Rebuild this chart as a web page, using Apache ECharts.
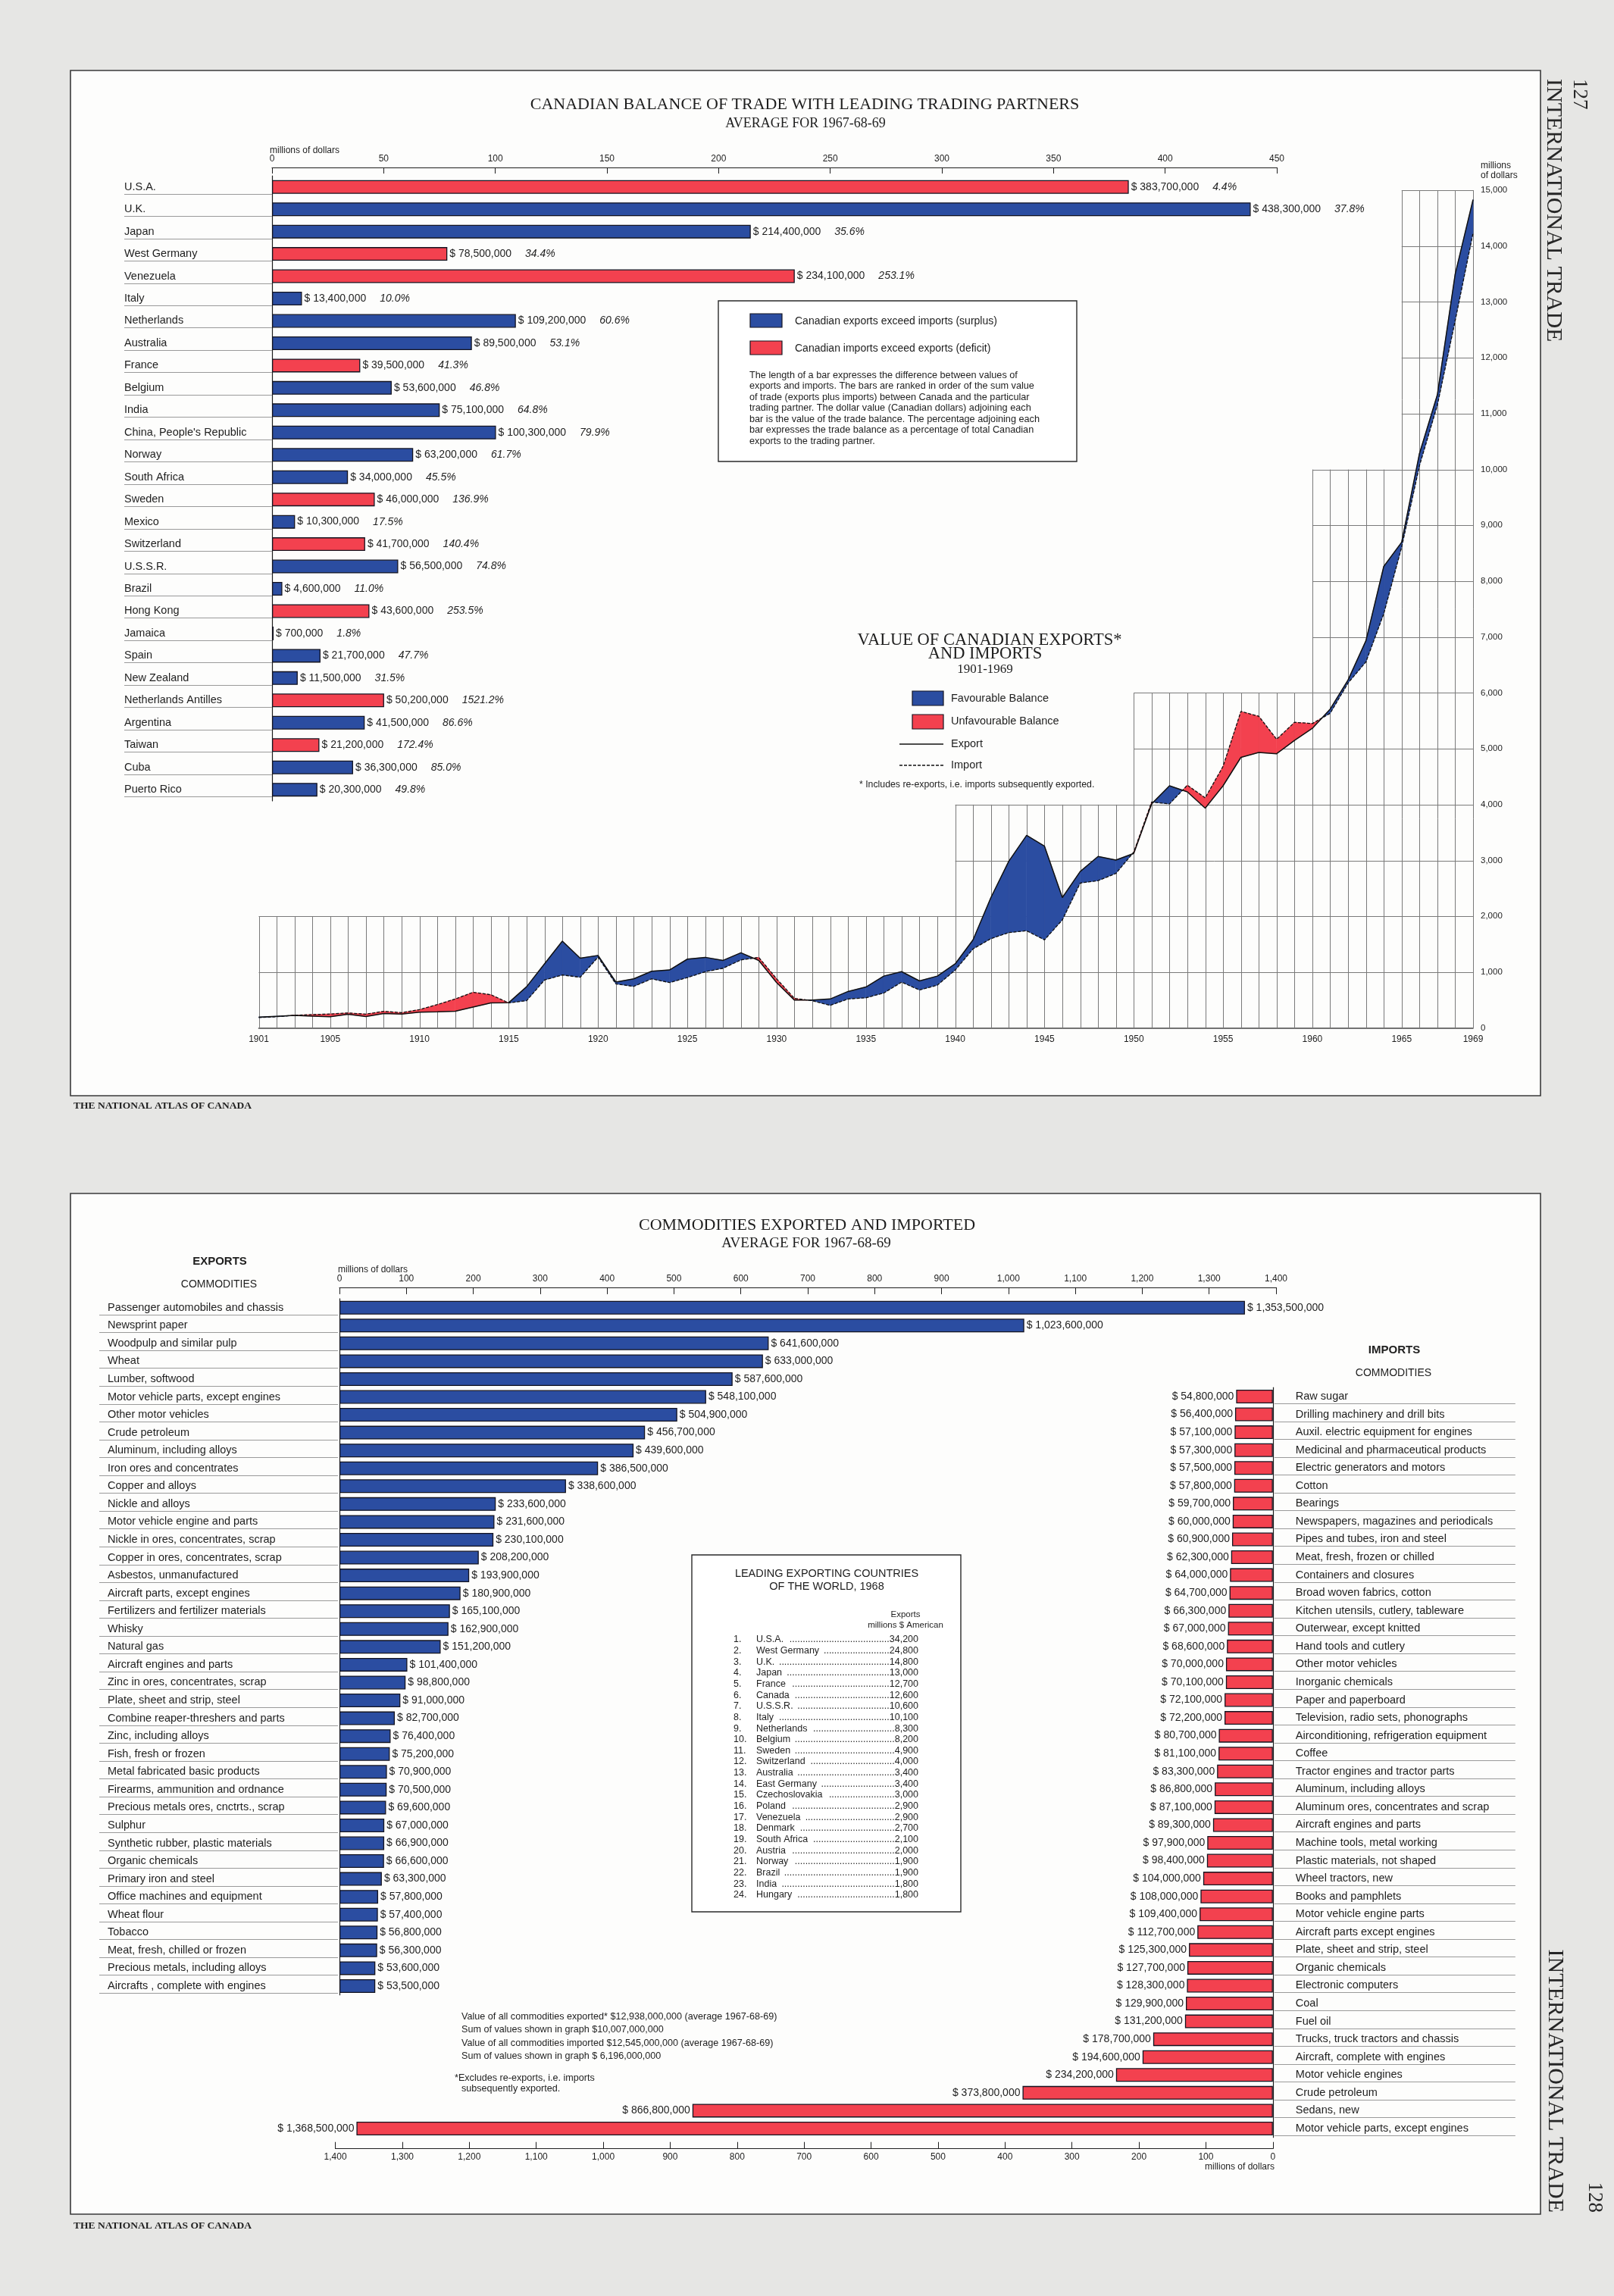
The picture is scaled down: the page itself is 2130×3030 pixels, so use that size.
<!DOCTYPE html>
<html><head><meta charset="utf-8">
<script src="https://cdn.jsdelivr.net/npm/echarts@6/dist/echarts.min.js"></script>
<style>html,body{margin:0;padding:0;background:#e6e6e4;}#c{width:2130px;height:3030px;}</style>
</head><body><div id="c"></div>
<script>
// ---------------- DATA ----------------
const partners = ['U.S.A.','U.K.','Japan','West Germany','Venezuela','Italy','Netherlands','Australia','France','Belgium','India',"China, People's Republic",'Norway','South Africa','Sweden','Mexico','Switzerland','U.S.S.R.','Brazil','Hong Kong','Jamaica','Spain','New Zealand','Netherlands Antilles','Argentina','Taiwan','Cuba','Puerto Rico'];
const partnerBalance = [383.7,438.3,214.4,78.5,234.1,13.4,109.2,89.5,39.5,53.6,75.1,100.3,63.2,34.0,46.0,10.3,41.7,56.5,4.6,43.6,0.7,21.7,11.5,50.2,41.5,21.2,36.3,20.3];
const partnerPct = ['4.4%','37.8%','35.6%','34.4%','253.1%','10.0%','60.6%','53.1%','41.3%','46.8%','64.8%','79.9%','61.7%','45.5%','136.9%','17.5%','140.4%','74.8%','11.0%','253.5%','1.8%','47.7%','31.5%','1521.2%','86.6%','172.4%','85.0%','49.8%'];
const partnerDeficit = [1,0,0,1,1,0,0,0,1,0,0,0,0,0,1,0,1,0,0,1,0,0,0,1,0,1,0,0];
const balanceTicks = [0,50,100,150,200,250,300,350,400,450];

const tradeYears = [1901,1902,1903,1904,1905,1906,1907,1908,1909,1910,1911,1912,1913,1914,1915,1916,1917,1918,1919,1920,1921,1922,1923,1924,1925,1926,1927,1928,1929,1930,1931,1932,1933,1934,1935,1936,1937,1938,1939,1940,1941,1942,1943,1944,1945,1946,1947,1948,1949,1950,1951,1952,1953,1954,1955,1956,1957,1958,1959,1960,1961,1962,1963,1964,1965,1966,1967,1968,1969];
const canExports = [196,211,225,214,203,246,206,262,250,285,290,300,375,450,455,740,1150,1555,1250,1300,823,881,1017,1040,1234,1266,1211,1347,1210,814,500,500,520,655,735,930,1010,844,930,1150,1580,2336,2985,3451,3256,2336,2802,3072,3007,3126,4013,4337,4229,3937,4337,4846,4933,4911,5149,5365,5711,6231,6934,8264,8697,10287,11336,13499,14830];
const canImports = [188,203,228,241,252,270,249,300,275,330,420,520,640,597,450,490,860,950,910,1270,790,746,881,814,904,1008,1071,1220,1265,881,530,490,407,520,542,627,822,681,768,1038,1417,1601,1709,1742,1579,1936,2596,2639,2769,3150,4046,4013,4348,4121,4684,5668,5582,5170,5473,5452,5636,6177,6555,7420,8610,10071,11152,12667,14235];
const yearLabels = [1901,1905,1910,1915,1920,1925,1930,1935,1940,1945,1950,1955,1960,1965,1969];
const gridLevels = [1000,2000,3000,4000,5000,6000,7000,8000,9000,10000,11000,12000,13000,14000,15000];
const gridSteps = [[1901,2000],[1940,4000],[1950,6000],[1960,10000],[1965,15000]];

const exportNames = ['Passenger automobiles and chassis','Newsprint paper','Woodpulp and similar pulp','Wheat','Lumber, softwood','Motor vehicle parts, except engines','Other motor vehicles','Crude petroleum','Aluminum, including alloys','Iron ores and concentrates','Copper and alloys','Nickle and alloys','Motor vehicle engine and parts','Nickle in ores, concentrates, scrap','Copper in ores, concentrates, scrap','Asbestos, unmanufactured','Aircraft parts, except engines','Fertilizers and fertilizer materials','Whisky','Natural gas','Aircraft engines and parts','Zinc in ores, concentrates, scrap','Plate, sheet and strip, steel','Combine reaper-threshers and parts','Zinc, including alloys','Fish, fresh or frozen','Metal fabricated basic products','Firearms, ammunition and ordnance','Precious metals ores, cnctrts., scrap','Sulphur','Synthetic rubber, plastic materials','Organic chemicals','Primary iron and steel','Office machines and equipment','Wheat flour','Tobacco','Meat, fresh, chilled or frozen','Precious metals, including alloys','Aircrafts , complete with engines'];
const exportValues = [1353.5,1023.6,641.6,633.0,587.6,548.1,504.9,456.7,439.6,386.5,338.6,233.6,231.6,230.1,208.2,193.9,180.9,165.1,162.9,151.2,101.4,98.8,91.0,82.7,76.4,75.2,70.9,70.5,69.6,67.0,66.9,66.6,63.3,57.8,57.4,56.8,56.3,53.6,53.5];

const importNames = ['Raw sugar','Drilling machinery and drill bits','Auxil. electric equipment for engines','Medicinal and pharmaceutical products','Electric generators and motors','Cotton','Bearings','Newspapers, magazines and periodicals','Pipes and tubes, iron and steel','Meat, fresh, frozen or chilled','Containers and closures','Broad woven fabrics, cotton','Kitchen utensils, cutlery, tableware','Outerwear, except knitted','Hand tools and cutlery','Other motor vehicles','Inorganic chemicals','Paper and paperboard','Television, radio sets, phonographs','Airconditioning, refrigeration equipment','Coffee','Tractor engines and tractor parts','Aluminum, including alloys','Aluminum ores, concentrates and scrap','Aircraft engines and parts','Machine tools, metal working','Plastic materials, not shaped','Wheel tractors, new','Books and pamphlets','Motor vehicle engine parts','Aircraft parts except engines','Plate, sheet and strip, steel','Organic chemicals','Electronic computers','Coal','Fuel oil','Trucks, truck tractors and chassis','Aircraft, complete with engines','Motor vehicle engines','Crude petroleum','Sedans, new','Motor vehicle parts, except engines'];
const importValues = [54.8,56.4,57.1,57.3,57.5,57.8,59.7,60.0,60.9,62.3,64.0,64.7,66.3,67.0,68.6,70.0,70.1,72.1,72.2,80.7,81.1,83.3,86.8,87.1,89.3,97.9,98.4,104.0,108.0,109.4,112.7,125.3,127.7,128.3,129.9,131.2,178.7,194.6,234.2,373.8,866.8,1368.5];

const leadCountries = ['U.S.A.','West Germany','U.K.','Japan','France','Canada','U.S.S.R.','Italy','Netherlands','Belgium','Sweden','Switzerland','Australia','East Germany','Czechoslovakia','Poland','Venezuela','Denmark','South Africa','Austria','Norway','Brazil','India','Hungary'];
const leadExports = [34200,24800,14800,13000,12700,12600,10600,10100,8300,8200,4900,4000,3400,3400,3000,2900,2900,2700,2100,2000,1900,1900,1800,1800];

// ---------------- STYLE ----------------
const F = '"Liberation Sans", Arial, Helvetica, sans-serif';
const SERIF = '"Liberation Serif", "Times New Roman", serif';
const INK = '#1e1e1e';
const BLUE = '#2b4da1', RED = '#f3414f', EDGE = '#141420';
const GRIDC = '#7a7a7a';

function fmtInt(n){ return String(Math.round(n)).replace(/\B(?=(\d{3})+(?!\d))/g, ','); }
function money(m){ return '$ ' + fmtInt(m * 1e6); }
const mctx = document.createElement('canvas').getContext('2d');
function textW(t, font){ mctx.font = font; return mctx.measureText(t).width; }

function T(x, y, text, o){
  o = o || {};
  const st = {text: text, font: o.font || ('13px ' + F), fill: o.fill || INK,
    textAlign: o.align || 'left', textVerticalAlign: o.valign || 'middle',
    align: o.align || 'left', verticalAlign: o.valign || 'middle'};
  return {type:'text', x: x, y: y, z: 50, silent: true, rotation: o.rot || 0, style: st};
}
function R(x, y, w, h, fill, stroke, lw, z){
  return {type:'rect', z: z === undefined ? 40 : z, silent: true, shape:{x:x, y:y, width:w, height:h},
    style:{fill: fill, stroke: stroke || null, lineWidth: lw || 0}};
}
function L(x1, y1, x2, y2, stroke, lw, dash){
  return {type:'line', z: 40, silent: true, shape:{x1:x1,y1:y1,x2:x2,y2:y2}, style:{stroke: stroke, lineWidth: lw, lineDash: dash || null}};
}

function sepSeries(xi, yi, n, dx0, dx1){
  const d = [];
  for (let i = 0; i < n; i++) d.push([0, i]);
  return {type:'custom', xAxisIndex: xi, yAxisIndex: yi, silent: true, z: 1, data: d,
    encode:{x:0, y:1},
    renderItem: function(params, api){
      const p = api.coord([0, api.value(1)]);
      const y = Math.round(p[1] + 9) + 0.5;
      return {type:'line', shape:{x1: p[0] + dx0, y1: y, x2: p[0] + dx1, y2: y}, style:{stroke:'#9a9a9a', lineWidth:1}};
    }};
}

function capForYear(y){ let c = 0; gridSteps.forEach(s => { if (y >= s[0]) c = s[1]; }); return c; }
function startForLevel(v){ for (const s of gridSteps) { if (s[1] >= v) return s[0]; } return 1901; }

// ---------------- CHART ----------------
const chart = echarts.init(document.getElementById('c'), null, {renderer:'canvas'});
const topRowH = 29.46, botRowH = 23.56;

const G = [];
G.push(R(93, 93, 1940, 1353, '#fdfdfc', '#3a3a3a', 1.6, -100));
G.push(R(93, 1575, 1940, 1347, '#fdfdfc', '#3a3a3a', 1.6, -100));
G.push(T(97, 1460, 'THE NATIONAL ATLAS OF CANADA', {font:'bold 13.5px ' + SERIF}));
G.push(T(97, 2938, 'THE NATIONAL ATLAS OF CANADA', {font:'bold 13.5px ' + SERIF}));
G.push(T(2050, 104, 'INTERNATIONAL TRADE', {font:'30px ' + SERIF, rot:-Math.PI/2, fill:'#262626'}));
G.push(T(2084, 104, '127', {font:'27px ' + SERIF, rot:-Math.PI/2, fill:'#262626'}));
G.push(T(2052, 2920, 'INTERNATIONAL TRADE', {font:'30px ' + SERIF, rot:-Math.PI/2, align:'right', fill:'#262626'}));
G.push(T(2104, 2920, '128', {font:'27px ' + SERIF, rot:-Math.PI/2, align:'right', fill:'#262626'}));

G.push(T(1062, 138, 'CANADIAN BALANCE OF TRADE WITH LEADING TRADING PARTNERS', {font:'22px ' + SERIF, align:'center'}));
G.push(T(1063, 163, 'AVERAGE FOR 1967-68-69', {font:'18px ' + SERIF, align:'center'}));
G.push(T(356, 199, 'millions of dollars', {font:'12px ' + F}));

G.push(R(948, 397, 473, 212, '#ffffff', '#2a2a2a', 1.4, 30));
G.push(R(990, 414, 42, 18, BLUE, EDGE, 1.2));
G.push(R(990, 450, 42, 18, RED, EDGE, 1.2));
G.push(T(1049, 424, 'Canadian exports exceed imports (surplus)', {font:'14px ' + F}));
G.push(T(1049, 460, 'Canadian imports exceed exports (deficit)', {font:'14px ' + F}));
const para = ['The length of a bar expresses the difference between values of',
 'exports and imports. The bars are ranked in order of the sum value',
 'of trade (exports plus imports) between Canada and the particular',
 'trading partner. The dollar value (Canadian dollars) adjoining each',
 'bar is the value of the trade balance. The percentage adjoining each',
 'bar expresses the trade balance as a percentage of total Canadian',
 'exports to the trading partner.'];
para.forEach((s, i) => G.push(T(989, 495 + i * 14.5, s, {font:'12.7px ' + F})));

G.push(T(1306, 845, 'VALUE OF CANADIAN EXPORTS*', {font:'22.5px ' + SERIF, align:'center'}));
G.push(T(1300, 863, 'AND IMPORTS', {font:'22.5px ' + SERIF, align:'center'}));
G.push(T(1300, 884, '1901-1969', {font:'17px ' + SERIF, align:'center'}));
G.push(R(1204, 912, 41, 19, BLUE, EDGE, 1.2));
G.push(R(1204, 943, 41, 19, RED, EDGE, 1.2));
G.push(T(1255, 922, 'Favourable Balance', {font:'14.5px ' + F}));
G.push(T(1255, 952, 'Unfavourable Balance', {font:'14.5px ' + F}));
G.push(L(1187, 982, 1245, 982, '#111', 1.5));
G.push(L(1187, 1010, 1245, 1010, '#111', 1.3, [4, 2]));
G.push(T(1255, 982, 'Export', {font:'14.5px ' + F}));
G.push(T(1255, 1010, 'Import', {font:'14.5px ' + F}));
G.push(T(1134, 1036, '* Includes re-exports, i.e. imports subsequently exported.', {font:'12.3px ' + F}));
G.push(T(1954, 219, 'millions', {font:'12px ' + F}));
G.push(T(1954, 232, 'of dollars', {font:'12px ' + F}));

G.push(T(1065, 1617, 'COMMODITIES EXPORTED AND IMPORTED', {font:'22px ' + SERIF, align:'center'}));
G.push(T(1064, 1641, 'AVERAGE FOR 1967-68-69', {font:'19px ' + SERIF, align:'center'}));
G.push(T(290, 1665, 'EXPORTS', {font:'bold 15px ' + F, align:'center'}));
G.push(T(289, 1695, 'COMMODITIES', {font:'14px ' + F, align:'center'}));
G.push(T(446, 1676, 'millions of dollars', {font:'12px ' + F}));
G.push(T(1840, 1782, 'IMPORTS', {font:'bold 15px ' + F, align:'center'}));
G.push(T(1839, 1812, 'COMMODITIES', {font:'14px ' + F, align:'center'}));
G.push(T(1682, 2860, 'millions of dollars', {font:'12px ' + F, align:'right'}));

G.push(R(913, 2052, 355, 471, '#ffffff', '#2a2a2a', 1.4, 30));
G.push(T(1091, 2077, 'LEADING EXPORTING COUNTRIES', {font:'14.5px ' + F, align:'center'}));
G.push(T(1091, 2094, 'OF THE WORLD, 1968', {font:'14.5px ' + F, align:'center'}));
G.push(T(1195, 2131, 'Exports', {font:'11.5px ' + F, align:'center'}));
G.push(T(1195, 2145, 'millions $ American', {font:'11.5px ' + F, align:'center'}));
const tf = '12.5px ' + F;
const dotW = textW('.', tf);
leadCountries.forEach((c, i) => {
  const y = 2164 + i * 14.64;
  const val = fmtInt(leadExports[i]);
  G.push(T(968, y, (i + 1) + '.', {font: tf}));
  G.push(T(998, y, c, {font: tf}));
  G.push(T(1212, y, val, {font: tf, align:'right'}));
  const nameEnd = 998 + textW(c, tf) + 5;
  const valStart = 1212 - textW(val, tf);
  const n = Math.max(0, Math.floor((valStart - nameEnd) / dotW));
  G.push(T(valStart, y, '.'.repeat(n), {font: tf, align:'right'}));
});

const fn = '12.6px ' + F;
G.push(T(609, 2662, 'Value of all commodities exported* $12,938,000,000 (average 1967-68-69)', {font: fn}));
G.push(T(609, 2679, 'Sum of values shown in graph $10,007,000,000', {font: fn}));
G.push(T(609, 2697, 'Value of all commodities imported $12,545,000,000 (average 1967-68-69)', {font: fn}));
G.push(T(609, 2714, 'Sum of values shown in graph $ 6,196,000,000', {font: fn}));
G.push(T(600, 2743, '*Excludes re-exports, i.e. imports', {font: fn}));
G.push(T(609, 2757, 'subsequently exported.', {font: fn}));

const barTop = {
  type:'bar', xAxisIndex:0, yAxisIndex:0, barWidth:18, z:3,
  data: partnerBalance.map((v, i) => ({value: v, itemStyle:{color: partnerDeficit[i] ? RED : BLUE, borderColor: EDGE, borderWidth: 1.3}})),
  label:{show:true, position:'right', distance:3,
    formatter: p => '{v|' + money(partnerBalance[p.dataIndex]) + '}{p|' + partnerPct[p.dataIndex] + '}',
    rich:{v:{fontSize:14, fontFamily:F, color:INK}, p:{fontSize:14, fontFamily:F, fontStyle:'italic', color:INK, padding:[0,0,0,18]}}}
};

const vGrid = {
  type:'custom', xAxisIndex:1, yAxisIndex:1, silent:true, z:1,
  data: tradeYears.map(y => [y, 0]), encode:{x:0, y:1},
  renderItem: function(params, api){
    const yr = api.value(0);
    const a = api.coord([yr, 0]), b = api.coord([yr, capForYear(yr)]);
    const x = Math.round(a[0]) + 0.5;
    return {type:'line', shape:{x1:x, y1:a[1], x2:x, y2:b[1]}, style:{stroke:GRIDC, lineWidth:1}};
  }
};
const hGrid = {
  type:'custom', xAxisIndex:1, yAxisIndex:1, silent:true, z:1,
  data: gridLevels.map(v => [startForLevel(v), v]), encode:{x:0, y:1},
  renderItem: function(params, api){
    const v = api.value(1);
    const a = api.coord([api.value(0), v]), b = api.coord([1969, v]);
    const y = Math.round(a[1]) + 0.5;
    return {type:'line', shape:{x1:a[0], y1:y, x2:b[0], y2:y}, style:{stroke:GRIDC, lineWidth:1}};
  }
};
const fills = {
  type:'custom', xAxisIndex:1, yAxisIndex:1, silent:true, z:2,
  data: tradeYears.slice(0, -1).map((y, i) => [y, i]), encode:{x:0, y:1},
  renderItem: function(params, api){
    const i = api.value(1);
    const x0 = tradeYears[i], x1 = tradeYears[i + 1];
    const e0 = canExports[i], e1 = canExports[i + 1], m0 = canImports[i], m1 = canImports[i + 1];
    const d0 = e0 - m0, d1 = e1 - m1;
    const pts = arr => arr.map(p => api.coord(p));
    const col = d => d >= 0 ? BLUE : RED;
    const ch = [];
    if (d0 * d1 >= 0) {
      const c = (d0 + d1) >= 0 ? BLUE : RED;
      ch.push({type:'polygon', shape:{points: pts([[x0,e0],[x1,e1],[x1,m1],[x0,m0]])}, style:{fill:c, stroke:c, lineWidth:0.6}});
    } else {
      const t = d0 / (d0 - d1);
      const xc = x0 + t * (x1 - x0), vc = e0 + t * (e1 - e0);
      ch.push({type:'polygon', shape:{points: pts([[x0,e0],[xc,vc],[x0,m0]])}, style:{fill:col(d0), stroke:col(d0), lineWidth:0.6}});
      ch.push({type:'polygon', shape:{points: pts([[xc,vc],[x1,e1],[x1,m1]])}, style:{fill:col(d1), stroke:col(d1), lineWidth:0.6}});
    }
    return {type:'group', children: ch};
  }
};
const expLine = {type:'line', xAxisIndex:1, yAxisIndex:1, z:4, symbol:'none', silent:true,
  data: tradeYears.map((y, i) => [y, canExports[i]]), lineStyle:{color:'#111', width:1.5}};
const impLine = {type:'line', xAxisIndex:1, yAxisIndex:1, z:4, symbol:'none', silent:true,
  data: tradeYears.map((y, i) => [y, canImports[i]]), lineStyle:{color:'#111', width:1.3, type:[4, 2]}};

const barExp = {
  type:'bar', xAxisIndex:2, yAxisIndex:2, barWidth:18, z:3,
  data: exportValues, itemStyle:{color: BLUE, borderColor: EDGE, borderWidth: 1.3},
  label:{show:true, position:'right', distance:3, fontSize:14, fontFamily:F, color:INK, formatter: p => money(p.value)}
};
const barImp = {
  type:'bar', xAxisIndex:3, yAxisIndex:3, barWidth:18, z:3,
  data: importValues, itemStyle:{color: RED, borderColor: EDGE, borderWidth: 1.3},
  label:{show:true, position:'left', distance:3, fontSize:14, fontFamily:F, color:INK, formatter: p => money(p.value)}
};

const axLine = {show:true, lineStyle:{color:INK, width:1.2}};
const option = {
  animation:false,
  backgroundColor:'#e6e6e4',
  textStyle:{fontFamily:F},
  grid:[
    {left:359, top:232, width:1326, height:28 * topRowH},
    {left:341.5, top:251, width:1602.5, height:1105.7},
    {left:448, top:1725.7 - botRowH / 2, width:1236, height:39 * botRowH},
    {left:442.6, top:1843 - botRowH / 2, width:1237.2, height:42 * botRowH}
  ],
  xAxis:[
    {gridIndex:0, type:'value', position:'top', min:0, max:450, interval:50, offset:11,
      axisLine:axLine, axisTick:{show:true, inside:true, length:8, lineStyle:{color:INK}},
      axisLabel:{fontSize:12, color:INK, margin:5, formatter: v => balanceTicks.includes(v) ? String(v) : ''}, splitLine:{show:false}},
    {gridIndex:1, type:'value', min:1901, max:1969, interval:1,
      axisLine:{show:true, lineStyle:{color:'#444', width:1.6}}, axisTick:{show:false}, splitLine:{show:false},
      axisLabel:{fontSize:12, color:INK, margin:9, formatter: v => yearLabels.includes(v) ? String(v) : ''}},
    {gridIndex:2, type:'value', position:'top', min:0, max:1400, interval:100, offset:15,
      axisLine:axLine, axisTick:{show:true, inside:true, length:9, lineStyle:{color:INK}},
      axisLabel:{fontSize:12, color:INK, margin:5, formatter: v => fmtInt(v)}, splitLine:{show:false}},
    {gridIndex:3, type:'value', position:'bottom', inverse:true, min:0, max:1400, interval:100, offset:15,
      axisLine:axLine, axisTick:{show:true, inside:true, length:9, lineStyle:{color:INK}},
      axisLabel:{fontSize:12, color:INK, margin:5, formatter: v => fmtInt(v)}, splitLine:{show:false}}
  ],
  yAxis:[
    {gridIndex:0, type:'category', data:partners, inverse:true, axisLine:axLine, axisTick:{show:false},
      axisLabel:{interval:0, align:'left', margin:195, fontSize:14.5, color:INK}},
    {gridIndex:1, type:'value', position:'right', min:0, max:15000, interval:1000,
      axisLine:{show:false}, axisTick:{show:false}, splitLine:{show:false},
      axisLabel:{fontSize:11.5, color:INK, margin:10, formatter: v => fmtInt(v)}},
    {gridIndex:2, type:'category', data:exportNames, inverse:true, axisLine:axLine, axisTick:{show:false},
      axisLabel:{interval:0, align:'left', margin:306, fontSize:14.5, color:INK}},
    {gridIndex:3, type:'category', position:'right', data:importNames, inverse:true, axisLine:axLine, axisTick:{show:false},
      axisLabel:{interval:0, align:'left', margin:30, fontSize:14.5, color:INK}}
  ],
  graphic:{elements:G},
  series:[
    sepSeries(0, 0, partners.length, -195, 0),
    barTop,
    vGrid, hGrid, fills, expLine, impLine,
    sepSeries(2, 2, exportNames.length, -317, -2),
    barExp,
    sepSeries(3, 3, importNames.length, 2, 320),
    barImp
  ]
};
chart.setOption(option);
</script>
</body></html>
